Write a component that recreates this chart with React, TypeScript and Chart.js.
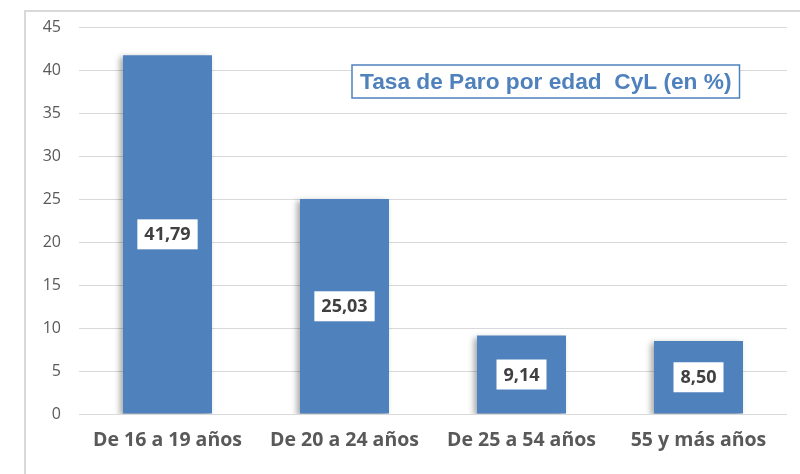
import React, { useEffect, useRef } from "react";
import { Chart, registerables } from "chart.js";

Chart.register(...registerables);

const categories = ["De 16 a 19 años", "De 20 a 24 años", "De 25 a 54 años", "55 y más años"];
const values = [41.79, 25.03, 9.14, 8.5];
const yTicks = [0, 5, 10, 15, 20, 25, 30, 35, 40, 45];
const titleText = "Tasa de Paro por edad  CyL (en %)";

const BLUE = "#4F81BD";

const shadowPlugin = {
  id: "barShadow",
  beforeDatasetDraw(chart: any) {
    const ctx = chart.ctx;
    ctx.save();
    ctx.shadowColor = "rgba(0,0,0,0.35)";
    ctx.shadowBlur = 6;
    ctx.shadowOffsetX = -3;
    ctx.shadowOffsetY = 2;
  },
  afterDatasetDraw(chart: any) {
    chart.ctx.restore();
  },
};

const labelPlugin = {
  id: "valueLabels",
  afterDatasetsDraw(chart: any) {
    const ctx = chart.ctx;
    const meta = chart.getDatasetMeta(0);
    ctx.save();
    ctx.font = "bold 18px 'Open Sans'";
    ctx.textAlign = "center";
    ctx.textBaseline = "middle";
    meta.data.forEach((el: any, i: number) => {
      const txt = values[i].toFixed(2).replace(".", ",");
      const cx = el.x;
      const cy = (el.y + el.base) / 2;
      const w = ctx.measureText(txt).width + 14;
      const h = 30;
      ctx.fillStyle = "#ffffff";
      ctx.fillRect(cx - w / 2, cy - h / 2, w, h);
      ctx.fillStyle = "#404040";
      ctx.fillText(txt, cx, cy + 1);
    });
    // title box
    ctx.font = "bold 22.7px 'Liberation Sans', Arial";
    const tw = ctx.measureText(titleText).width;
    const bx = 352, by = 65, bh = 33;
    const bw = tw + 16;
    ctx.fillStyle = "#ffffff";
    ctx.fillRect(bx, by, bw, bh);
    ctx.strokeStyle = BLUE;
    ctx.lineWidth = 1.5;
    ctx.strokeRect(bx, by, bw, bh);
    ctx.fillStyle = BLUE;
    ctx.textAlign = "left";
    ctx.fillText(titleText, bx + 8, by + bh / 2 + 1);
    ctx.restore();
  },
};

export default function App() {
  const ref = useRef<HTMLCanvasElement>(null);
  useEffect(() => {
    const chart = new Chart(ref.current!, {
      type: "bar",
      data: {
        labels: categories,
        datasets: [
          {
            data: values,
            backgroundColor: BLUE,
            borderWidth: 0,
            categoryPercentage: 1,
            barPercentage: 0.503,
          },
        ],
      },
      options: {
        animation: false,
        responsive: false,
        maintainAspectRatio: false,
        layout: { padding: { left: 0, right: 13, top: 25, bottom: 0 } },
        plugins: { legend: { display: false }, tooltip: { enabled: false }, title: { display: false } },
        scales: {
          x: {
            grid: { display: false, drawTicks: false },
            border: { display: false },
            ticks: {
              color: "#595959",
              font: { family: "'Open Sans'", size: 19.5, weight: "bold" },
              padding: 15,
              maxRotation: 0,
            },
            afterFit(scale: any) {
              scale.height = 60;
            },
          },
          y: {
            min: 0,
            max: 45,
            afterBuildTicks(scale: any) {
              scale.ticks = yTicks.map((v) => ({ value: v }));
            },
            grid: { color: "#d9d9d9", lineWidth: 1, drawTicks: false },
            border: { display: false },
            ticks: {
              color: "#595959",
              font: { family: "'Open Sans'", size: 16 },
              padding: 18,
            },
            afterFit(scale: any) {
              scale.width = 79;
            },
          },
        },
      },
      plugins: [shadowPlugin, labelPlugin],
    } as any);
    return () => chart.destroy();
  }, []);
  return (
    <div style={{ position: "absolute", left: 0, top: 0, width: 800, height: 474, background: "#fff" }}>
      <div
        style={{
          position: "absolute",
          left: 24,
          top: 10,
          width: 776,
          height: 464,
          borderLeft: "2px solid #d9d9d9",
          borderTop: "2px solid #d9d9d9",
          boxSizing: "border-box",
        }}
      />
      <canvas ref={ref} width={800} height={474} style={{ position: "absolute", left: 0, top: 0 }} />
    </div>
  );
}
